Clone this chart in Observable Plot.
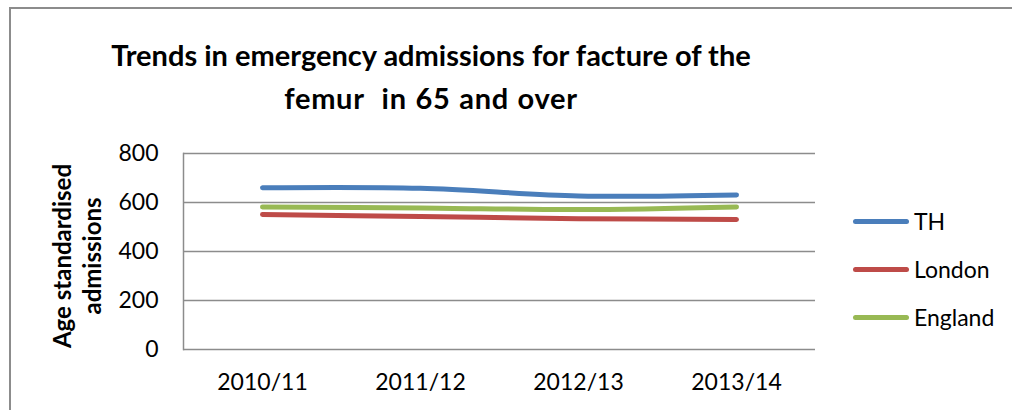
<!DOCTYPE html>
<html>
<head>
<meta charset="utf-8">
<script src="https://cdn.jsdelivr.net/npm/d3@7"></script>
<script src="https://cdn.jsdelivr.net/npm/@observablehq/plot@0.6"></script>
<style>
  html, body { margin: 0; padding: 0; background: #fff; overflow: hidden; width: 1012px; height: 410px; }
  #wrap { position: relative; width: 1012px; height: 410px; overflow: hidden; font-family: Lato, "Open Sans", sans-serif; color: #000; }
  #bl { position: absolute; left: 9px; top: 7px; width: 2px; height: 403px; background: #8c8c8c; }
  #bt { position: absolute; left: 9px; top: 7px; width: 1003px; height: 2px; background: #8c8c8c; }
  #title { position: absolute; left: 0; width: 862px; top: 33px; text-align: center; font-weight: bold; font-size: 29px; line-height: 43px; }
  #title .l2 { letter-spacing: 0.7px; word-spacing: 1px; }
  #ylab { position: absolute; left: 77px; top: 256px; width: 300px; transform: translate(-50%, -50%) rotate(-90deg); text-align: center; font-weight: bold; font-size: 24px; line-height: 30px; white-space: nowrap; }
  #legend { position: absolute; left: 853px; top: 197px; width: 150px; font-size: 23px; }
  .item { display: flex; align-items: center; height: 48px; }
  .sw { width: 56px; height: 5px; border-radius: 3px; margin-right: 5px; }
  #chart { position: absolute; left: 0; top: 0; width: 1012px; height: 410px; }
</style>
</head>
<body>
<div id="wrap">
  <div id="bl"></div>
  <div id="bt"></div>
  <div id="chart"></div>
  <div id="title">Trends in emergency admissions for facture of the<br><span class="l2">femur&nbsp; in 65 and over</span></div>
  <div id="ylab">Age standardised<br>admissions</div>
  <div id="legend"></div>
</div>
<script>
const years = ["2010/11", "2011/12", "2012/13", "2013/14"];
const seriesNames = ["TH", "London", "England"];
const thValues = [660, 658, 627, 631];
const londonValues = [551, 543, 534, 531];
const englandValues = [582, 578, 571, 582];
const yTicks = [0, 200, 400, 600, 800];
const colors = ["#4a7ebb", "#be4b48", "#98b954"];

const allValues = [thValues, londonValues, englandValues];
const rows = [];
seriesNames.forEach((s, si) => years.forEach((y, i) => rows.push({series: s, year: y, value: allValues[si][i]})));

const chart = Plot.plot({
  width: 1012,
  height: 410,
  marginLeft: 183,
  marginRight: 197,
  marginTop: 153,
  marginBottom: 61,
  style: { fontFamily: "Lato, 'Open Sans', sans-serif", fontSize: "23px", color: "#000", background: "transparent" },
  x: { type: "point", domain: years, padding: 0.5, label: null, tickSize: 0, tickPadding: 24 },
  y: { domain: [0, 800], ticks: yTicks, label: null, tickSize: 0, tickPadding: 25, tickFormat: d => String(d) },
  color: { domain: seriesNames, range: colors },
  marks: [
    Plot.ruleY(yTicks, { stroke: "#8c8c8c", strokeWidth: 1.5 }),
    Plot.frame({ anchor: "left", stroke: "#8c8c8c", strokeWidth: 1.5 }),
    Plot.line(rows, { x: "year", y: "value", z: "series", stroke: "series", strokeWidth: 5, strokeLinecap: "round", strokeLinejoin: "round", curve: "catmull-rom" })
  ]
});
chart.querySelectorAll("text").forEach(t => t.setAttribute("fill", "#000"));
document.getElementById("chart").appendChild(chart);

const legend = document.getElementById("legend");
seriesNames.forEach((s, i) => {
  const item = document.createElement("div");
  item.className = "item";
  const sw = document.createElement("div");
  sw.className = "sw";
  sw.style.background = colors[i];
  const lab = document.createElement("span");
  lab.textContent = s;
  item.appendChild(sw);
  item.appendChild(lab);
  legend.appendChild(item);
});
</script>
</body>
</html>
